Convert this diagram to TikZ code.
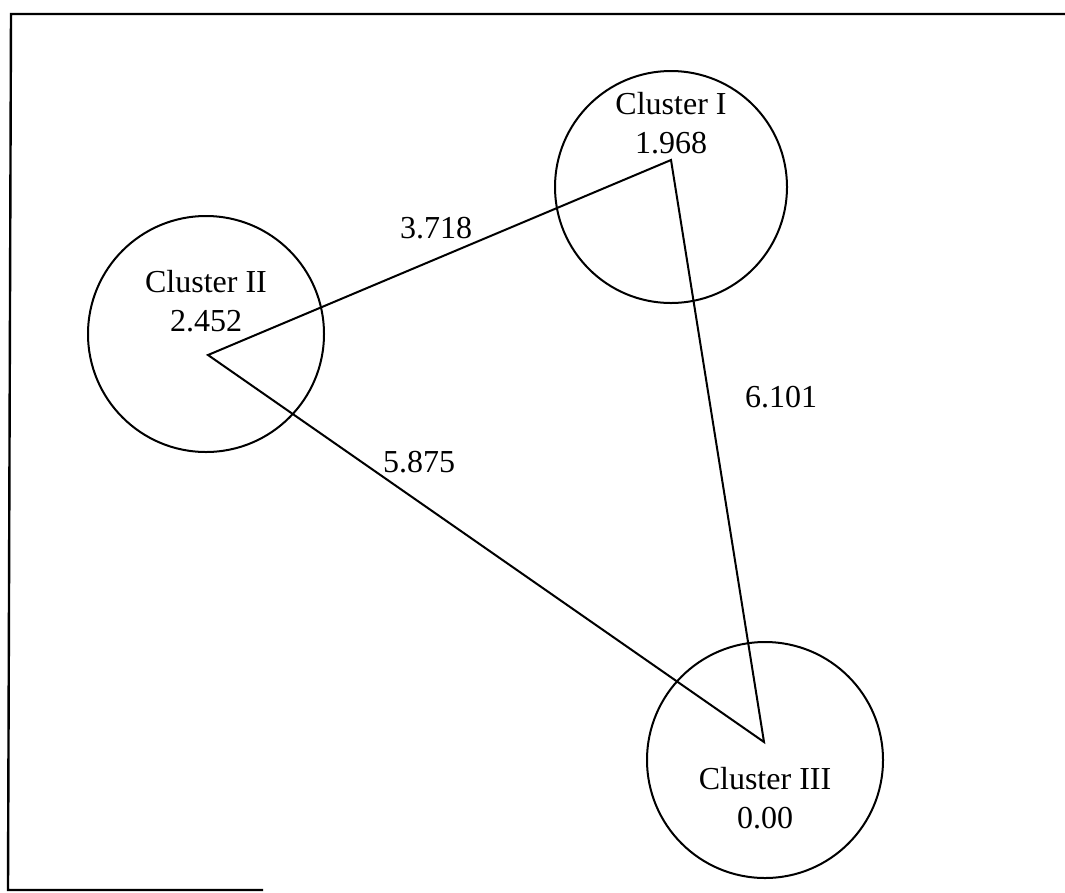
\documentclass[tikz,border=0pt]{standalone}
\usepackage{fontspec}
\setmainfont{Liberation Serif}
\begin{document}
\begin{tikzpicture}[x=1pt,y=-1pt,
  clus/.style={circle,draw,line width=2pt,minimum size=#1,inner sep=0pt},
  lbl/.style={font=\fontsize{32}{39}\selectfont,align=center,inner sep=0pt},
  edge/.style={line width=2pt,line join=miter},
  frame/.style={line width=2.4pt}]
\useasboundingbox (0,0) rectangle (1065,892);
% frame (open on the right, as in the scan)
\coordinate (f1) at (1065,14);
\coordinate (f2) at (11,14);
\coordinate (f3) at (8,890);
\coordinate (f4) at (263,890);
\draw[frame] (f1) -- (f2) -- (f3) -- (f4);
% clusters
\node[clus=232pt] (c1) at (671,187) {};
\node[clus=236pt] (c2) at (206,334) {};
\node[clus=236pt] (c3) at (765,760) {};
% texts
\node[lbl] (t1) at (671,123) {Cluster I\\1.968};
\node[lbl] (t2) at (206,301) {Cluster II\\2.452};
\node[lbl] (t3) at (765,798) {Cluster III\\0.00};
% triangle
\coordinate (v1) at (671,160);
\coordinate (v2) at (208,355);
\coordinate (v3) at (764,742);
\draw[edge] (v1) -- (v2) -- (v3) -- cycle;
% distances
\node[lbl] (d12) at (436,228) {3.718};
\node[lbl] (d13) at (781,397) {6.101};
\node[lbl] (d23) at (419,462) {5.875};
\end{tikzpicture}
\end{document}
